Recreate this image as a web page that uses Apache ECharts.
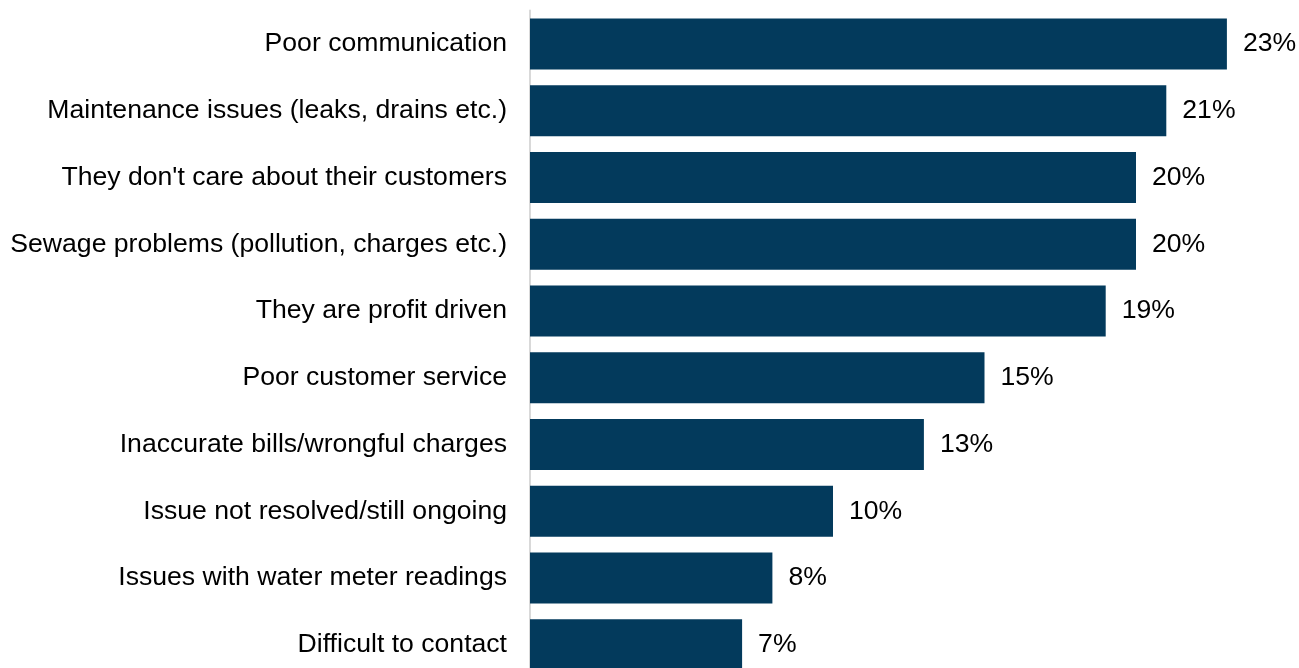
<!DOCTYPE html>
<html>
<head>
<meta charset="utf-8">
<script src="https://cdn.jsdelivr.net/npm/echarts@6/dist/echarts.min.js"></script>
<style>
  html, body { margin: 0; padding: 0; background: #fff; overflow: hidden; }
  /* the original is cropped at the bottom, so the chart runs past the window */
  #chart { width: 1299px; height: 680px; }
</style>
</head>
<body>
<div id="chart"></div>
<script>
var categories = [
    'Poor communication',
    'Maintenance issues (leaks, drains etc.)',
    "They don't care about their customers",
    'Sewage problems (pollution, charges etc.)',
    'They are profit driven',
    'Poor customer service',
    'Inaccurate bills/wrongful charges',
    'Issue not resolved/still ongoing',
    'Issues with water meter readings',
    'Difficult to contact'
];
var values = [23, 21, 20, 20, 19, 15, 13, 10, 8, 7];

var chart = echarts.init(document.getElementById('chart'));
var font = "'Liberation Sans', Arial, sans-serif";

var option = {
    animation: false,
    grid: {
        left: 530,
        width: 757.5,
        top: 10.6,
        height: 667.5,
        containLabel: false
    },
    xAxis: {
        type: 'value',
        min: 0,
        max: 25,
        show: false
    },
    yAxis: {
        type: 'category',
        inverse: true,
        data: categories,
        axisLine: {
            show: true,
            lineStyle: { color: '#d9d9d9', width: 2 }
        },
        axisTick: { show: false },
        axisLabel: {
            color: '#000',
            fontFamily: font,
            fontSize: 26.6,
            margin: 23
        }
    },
    series: [
        {
            type: 'bar',
            data: values,
            barWidth: 51,
            itemStyle: { color: '#033a5c' },
            label: {
                show: true,
                position: 'right',
                distance: 16,
                color: '#000',
                fontFamily: font,
                fontSize: 26.6,
                formatter: '{c}%'
            }
        }
    ]
};
chart.setOption(option);
</script>
</body>
</html>
